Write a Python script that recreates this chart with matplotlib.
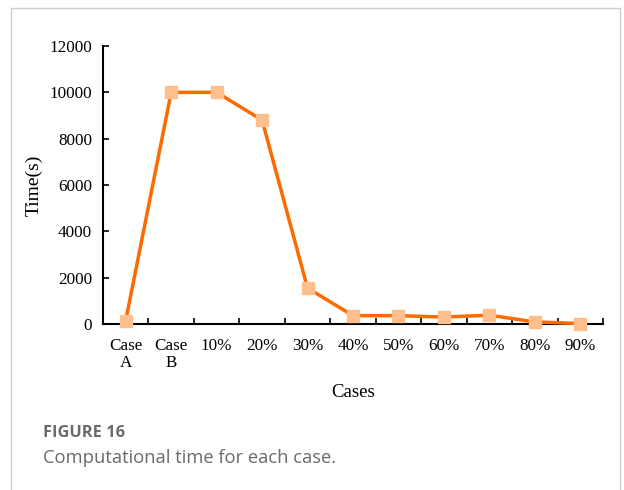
import matplotlib
matplotlib.use("Agg")
import matplotlib.pyplot as plt
from matplotlib.patches import Rectangle

categories = ["Case\nA", "Case\nB", "10%", "20%", "30%", "40%", "50%", "60%", "70%", "80%", "90%"]
times = [150, 10000, 10000, 8800, 1550, 360, 360, 300, 380, 90, 20]
yticks = [0, 2000, 4000, 6000, 8000, 10000, 12000]

fig = plt.figure(figsize=(6.24, 4.9), dpi=100)
fig.patch.set_facecolor("white")

# outer frame
fig.add_artist(Rectangle((10.5 / 624, -0.1), 609 / 624, (490 - 8.5) / 490 + 0.1,
                         transform=fig.transFigure, fill=False,
                         edgecolor="#cfcfcf", linewidth=1.0))

ax = fig.add_axes([103 / 624, (490 - 324) / 490, 500 / 624, 278 / 490])
x = list(range(len(categories)))
ax.plot(x, times, color="#FF6A00", linewidth=2.5, marker="s", markersize=8,
        markerfacecolor="#FFBF8C", markeredgecolor="#FFBF8C", zorder=3, clip_on=False)

ax.set_xlim(-0.5, len(categories) - 0.5)
ax.set_ylim(0, 12000)
ax.set_yticks(yticks)
ax.set_yticklabels([str(v) for v in yticks])
ax.set_xticks(x)
ax.set_xticklabels(categories, linespacing=1.1)
ax.set_xticks([i + 0.5 for i in range(len(categories))], minor=True)

serif = "Liberation Serif"
for lab in ax.get_xticklabels() + ax.get_yticklabels():
    lab.set_fontfamily(serif)
    lab.set_fontsize(12.3)

ax.tick_params(axis="x", which="major", length=0, pad=10)
ax.tick_params(axis="x", which="minor", direction="in", length=4, width=1.2)
ax.tick_params(axis="y", which="major", direction="in", length=4, width=1.2, pad=8)

for s in ["top", "right"]:
    ax.spines[s].set_visible(False)
for s in ["left", "bottom"]:
    ax.spines[s].set_linewidth(1.5)
    ax.spines[s].set_color("black")

ax.set_xlabel("Cases", fontfamily=serif, fontsize=13.5, labelpad=9)
ax.set_ylabel("Time(s)", fontfamily=serif, fontsize=14, labelpad=5)

fig.text(43 / 624, 1 - 433 / 490, "FIGURE 16", fontfamily="Open Sans", fontweight="bold",
         fontsize=11.8, color="#6a6a6a", va="center", ha="left")
fig.text(43 / 624, 1 - 458 / 490, "Computational time for each case.", fontfamily="Open Sans",
         fontsize=13.2, color="#6a6a6a", va="center", ha="left")

fig.savefig("out.png", dpi=100, facecolor="white")
